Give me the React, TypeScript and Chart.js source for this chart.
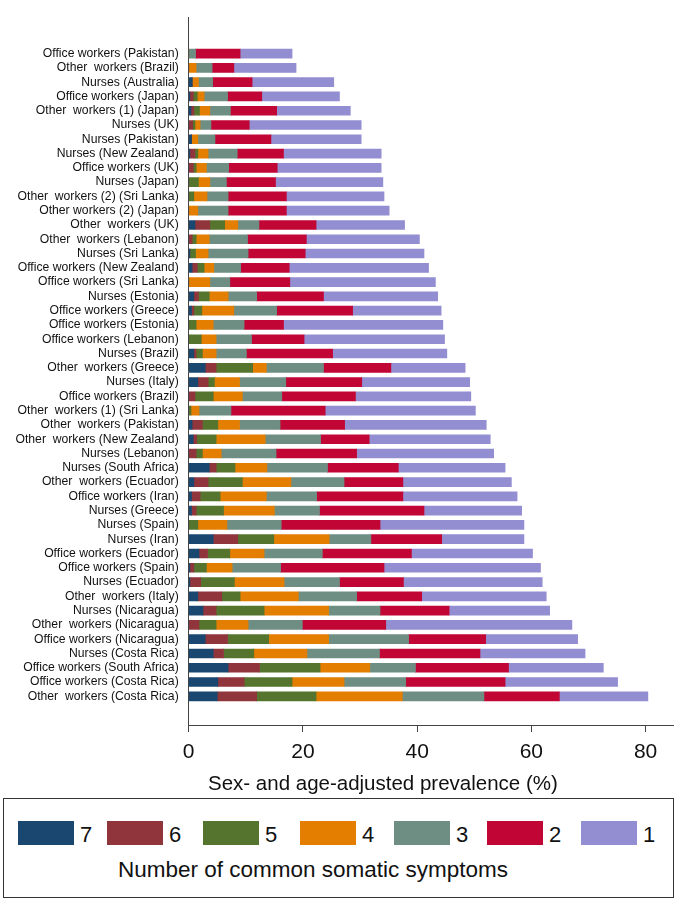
import React, { useEffect, useRef } from 'react';
import { Chart, registerables } from 'chart.js';

Chart.register(...registerables);

const categories = [
  'Office workers (Pakistan)',
  'Other  workers (Brazil)',
  'Nurses (Australia)',
  'Office workers (Japan)',
  'Other  workers (1) (Japan)',
  'Nurses (UK)',
  'Nurses (Pakistan)',
  'Nurses (New Zealand)',
  'Office workers (UK)',
  'Nurses (Japan)',
  'Other  workers (2) (Sri Lanka)',
  'Other workers (2) (Japan)',
  'Other  workers (UK)',
  'Other  workers (Lebanon)',
  'Nurses (Sri Lanka)',
  'Office workers (New Zealand)',
  'Office workers (Sri Lanka)',
  'Nurses (Estonia)',
  'Office workers (Greece)',
  'Office workers (Estonia)',
  'Office workers (Lebanon)',
  'Nurses (Brazil)',
  'Other  workers (Greece)',
  'Nurses (Italy)',
  'Office workers (Brazil)',
  'Other  workers (1) (Sri Lanka)',
  'Other  workers (Pakistan)',
  'Other  workers (New Zealand)',
  'Nurses (Lebanon)',
  'Nurses (South Africa)',
  'Other  workers (Ecuador)',
  'Office workers (Iran)',
  'Nurses (Greece)',
  'Nurses (Spain)',
  'Nurses (Iran)',
  'Office workers (Ecuador)',
  'Office workers (Spain)',
  'Nurses (Ecuador)',
  'Other  workers (Italy)',
  'Nurses (Nicaragua)',
  'Other  workers (Nicaragua)',
  'Office workers (Nicaragua)',
  'Nurses (Costa Rica)',
  'Office workers (South Africa)',
  'Office workers (Costa Rica)',
  'Other  workers (Costa Rica)',
];

const sym7 = [0, 0, 0.6, 0.2, 0.4, 0, 0.5, 0.2, 0, 0, 0, 0, 1.1, 0, 0.2, 0.6, 0, 0.9, 0.5, 0, 0, 0.9, 2.9, 1.6, 0, 0, 0.6, 0.8, 0, 3.6, 0.9, 0.5, 0.5, 0, 4.3, 1.8, 0.2, 0.2, 1.6, 2.5, 0, 2.9, 4.3, 6.9, 5.1, 5.0];
const sym6 = [0, 0, 0, 0.6, 0.5, 0.7, 0, 0.9, 0.8, 0, 0, 0, 2.6, 0.6, 0, 0.9, 0, 0.8, 0.4, 0, 0, 0.4, 1.9, 1.8, 1.1, 0, 1.8, 0.6, 1.3, 1.2, 2.5, 1.5, 0.8, 0, 4.3, 1.5, 0.7, 1.9, 4.2, 2.3, 1.8, 3.9, 1.8, 5.5, 4.6, 6.9];
const sym5 = [0, 0, 0, 0.7, 1.0, 0.4, 0, 0.5, 0.5, 1.7, 0.9, 0, 2.6, 0.7, 1.0, 1.2, 0, 1.9, 1.4, 1.3, 2.2, 1.1, 6.4, 1.1, 3.2, 0.4, 2.7, 3.4, 1.1, 3.3, 6.0, 3.5, 4.8, 1.6, 6.3, 3.9, 2.2, 5.9, 3.2, 8.4, 3.0, 7.2, 5.3, 10.6, 8.4, 10.4];
const sym4 = [0, 1.3, 1.1, 1.2, 1.8, 0.9, 1.1, 1.8, 1.8, 2.0, 2.3, 1.6, 2.3, 2.3, 2.2, 1.7, 3.7, 3.3, 5.6, 3.0, 2.6, 2.4, 2.4, 4.4, 5.1, 1.4, 3.8, 8.6, 3.3, 5.6, 8.5, 8.1, 8.9, 5.1, 9.7, 6.0, 4.5, 8.7, 10.2, 11.3, 5.6, 10.5, 9.3, 8.7, 9.1, 15.1];
const sym3 = [1.2, 2.8, 2.5, 4.1, 3.6, 1.9, 3.0, 5.1, 3.9, 2.9, 3.7, 5.3, 3.7, 6.7, 7.0, 4.7, 3.5, 5.0, 7.5, 5.4, 6.2, 5.3, 10.0, 8.1, 6.9, 5.6, 7.1, 9.7, 9.6, 10.6, 9.3, 8.8, 7.9, 9.5, 7.3, 10.2, 8.5, 9.7, 10.2, 9.0, 9.5, 14.0, 12.7, 8.0, 10.8, 14.3];
const sym2 = [7.8, 3.8, 6.9, 6.0, 8.1, 6.7, 9.8, 8.1, 8.5, 8.6, 10.2, 10.2, 10.0, 10.3, 10.0, 8.5, 10.5, 11.7, 13.3, 6.9, 9.2, 15.1, 11.8, 13.3, 12.9, 16.5, 11.3, 8.5, 14.1, 12.4, 10.3, 15.1, 18.3, 17.3, 12.4, 15.6, 18.1, 11.2, 11.4, 12.1, 14.6, 13.5, 17.6, 16.3, 17.4, 13.2];
const sym1 = [9.1, 10.9, 14.3, 13.6, 12.9, 19.6, 15.8, 17.1, 18.2, 18.8, 17.1, 18.0, 15.5, 19.8, 20.8, 24.4, 25.5, 20.0, 15.5, 27.9, 24.6, 20.0, 13.0, 18.9, 20.2, 26.3, 24.8, 21.2, 24.0, 18.7, 19.0, 20.0, 17.1, 25.2, 14.4, 21.2, 27.4, 24.3, 21.8, 17.6, 32.6, 16.1, 18.4, 16.6, 19.7, 15.5];

const legendLabels = ['7', '6', '5', '4', '3', '2', '1'];
const colors = ['#1a476f', '#90353b', '#55752f', '#e37e00', '#6e8e84', '#c10534', '#938dd2'];
const xTicks = [0, 20, 40, 60, 80];
const xTitle = 'Sex- and age-adjusted prevalence (%)';
const legendTitle = 'Number of common somatic symptoms';

const FONT = "'Liberation Sans', Arial, sans-serif";
const swatchLefts = [18, 107, 203, 300, 394, 487, 581];

export default function App() {
  const ref = useRef<HTMLCanvasElement>(null);

  useEffect(() => {
    document.body.style.margin = '0';
    const series = [sym7, sym6, sym5, sym4, sym3, sym2, sym1];
    const datasets = series.map((vals, k) => ({
      label: legendLabels[k],
      data: vals.map((v, i) => ({ x: v, y: i })),
      backgroundColor: colors[k],
      borderWidth: 0,
      barThickness: 9,
    }));

    const titlePlugin = {
      id: 'xAxisTitle',
      afterDraw(chart: any) {
        const { ctx, chartArea } = chart;
        ctx.save();
        ctx.font = `20.5px ${FONT}`;
        ctx.fillStyle = '#111';
        ctx.textAlign = 'center';
        ctx.textBaseline = 'middle';
        ctx.fillText(xTitle, chartArea.left + 0.401 * (chartArea.right - chartArea.left), chartArea.bottom + 59);
        ctx.restore();
      },
    };

    const chart = new Chart(ref.current as HTMLCanvasElement, {
      type: 'bar',
      data: { datasets: datasets as any },
      options: {
        indexAxis: 'y',
        animation: false,
        responsive: false,
        maintainAspectRatio: false,
        layout: { padding: { top: 2, right: 3, left: 0, bottom: 0 } },
        plugins: { legend: { display: false }, tooltip: { enabled: false } },
        scales: {
          x: {
            type: 'linear',
            stacked: true,
            min: 0,
            max: 84.8,
            afterBuildTicks: (s: any) => {
              s.ticks = xTicks.map((v) => ({ value: v }));
            },
            afterFit: (s: any) => {
              s.height = 73;
            },
            grid: { display: true, drawOnChartArea: false, drawTicks: true, tickLength: 7, color: '#444' },
            border: { display: true, color: '#444', width: 1 },
            ticks: { font: { family: FONT, size: 21 }, color: '#111', padding: 8, maxRotation: 0 },
          },
          y: {
            type: 'linear',
            stacked: true,
            reverse: true,
            min: -2,
            max: 46.47,
            afterBuildTicks: (s: any) => {
              s.ticks = categories.map((_, i) => ({ value: i }));
            },
            afterFit: (s: any) => {
              s.width = 188.7;
            },
            ticks: {
              autoSkip: false,
              callback: (v: any) => categories[v as number] ?? '',
              font: { family: FONT, size: 12.2 },
              color: '#111',
              padding: 10,
            },
            grid: { display: false, drawTicks: false },
            border: { display: true, color: '#444', width: 1 },
          },
        },
      } as any,
      plugins: [titlePlugin],
    });
    return () => chart.destroy();
  }, []);

  return (
    <div style={{ width: 676, fontFamily: FONT }}>
      <canvas ref={ref} width={676} height={798} style={{ display: 'block' }} />
      <div
        style={{
          position: 'relative',
          marginLeft: 3,
          width: 671,
          height: 100,
          border: '1px solid #333',
          boxSizing: 'border-box',
          color: '#111',
        }}
      >
        {legendLabels.map((l, k) => (
          <React.Fragment key={l}>
            <div
              style={{
                position: 'absolute',
                left: swatchLefts[k] - 4,
                top: 22,
                width: 56,
                height: 24,
                background: colors[k],
              }}
            />
            <div
              style={{
                position: 'absolute',
                left: swatchLefts[k] - 4 + 62,
                top: 24,
                fontSize: 22,
                lineHeight: '24px',
              }}
            >
              {l}
            </div>
          </React.Fragment>
        ))}
        <div
          style={{
            position: 'absolute',
            left: 313 - 4,
            top: 58,
            transform: 'translateX(-50%)',
            whiteSpace: 'nowrap',
            fontSize: 22.5,
            lineHeight: '26px',
          }}
        >
          {legendTitle}
        </div>
      </div>
    </div>
  );
}
